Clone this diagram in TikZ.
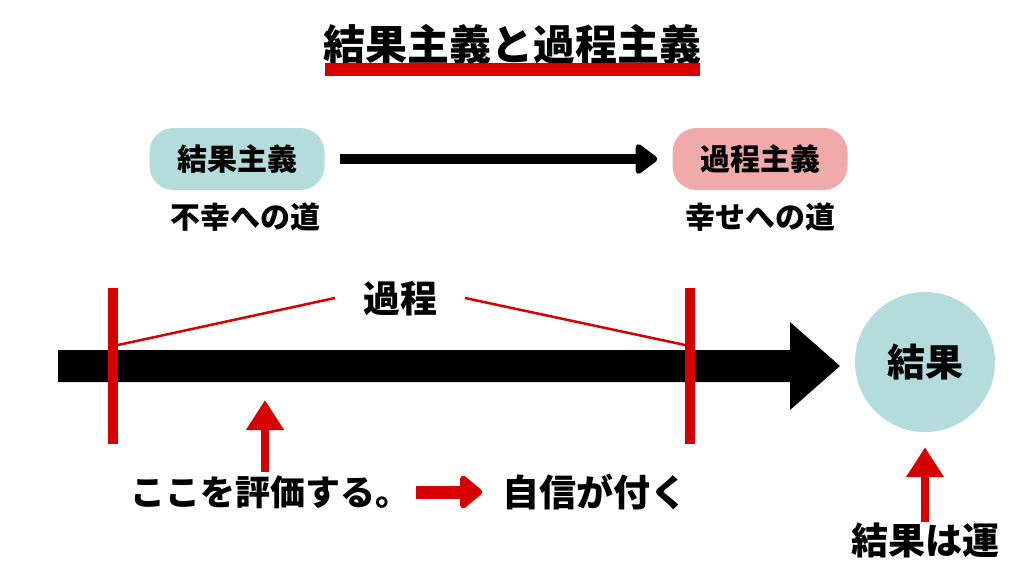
\documentclass[tikz,border=0pt]{standalone}
\usepackage{fontspec}
\newfontfamily\cjk{Noto Sans CJK JP Black}
\usetikzlibrary{arrows.meta,positioning}
\definecolor{boxteal}{RGB}{180,220,220}
\definecolor{boxpink}{RGB}{240,170,170}
\definecolor{mred}{RGB}{215,0,0}
\tikzset{
  jp/.style={font=\cjk\fontsize{#1}{#1}\selectfont, inner sep=0pt},
  tagbox/.style={rounded corners=24pt, minimum width=175pt, minimum height=62pt},
  redbar/.style={mred, line width=10pt},
  uparrow/.style={mred, line width=8pt, -{Triangle[length=30pt,width=36pt]}}
}
\begin{document}
\begin{tikzpicture}[x=1pt, y=-1pt]
    \useasboundingbox (0,0) rectangle (1024,576);

    % title
    \node[jp=42] (title) at (512,44) {結果主義と過程主義};
    \fill[mred] (325,63) rectangle (700,76);

    % the two views
    \node[tagbox, fill=boxteal, jp=30] (kekka) at (237,159) {結果主義};
    \node[tagbox, fill=boxpink, jp=30] (katei) at (760,159) {過程主義};
    \node[jp=30, below=12pt of kekka, xshift=8pt] (fukou) {不幸への道};
    \node[jp=30, below=12pt of katei] (kouhuku) {幸せへの道};
    \draw[line width=10pt, shorten <=15pt, shorten >=15pt,
          -{Triangle[round, length=24pt, width=34pt]}] (kekka) -- (katei);

    % time line
    \fill (58,350) -- (790,350) -- (790,322) -- (840,366)
          -- (790,410) -- (790,382) -- (58,382) -- cycle;
    \coordinate (start) at (113,288);
    \coordinate (stop) at (690,288);
    \draw[redbar] (start) -- ++(0,156);
    \draw[redbar] (stop) -- ++(0,156);

    \node[jp=37] (process) at (400,299) {過程};
    \coordinate (pl) at (335,298);
    \coordinate (pr) at (465,298);
    \draw[mred, line width=2.5pt] (118,345) -- (pl);
    \draw[mred, line width=2.5pt] (pr) -- (685,345);

    \node[circle, fill=boxteal, minimum size=140pt, jp=38] (result) at (925,362) {結果};

    % below the line
    \node[jp=35] (hyoka) at (270,492) {ここを評価する。};
    \node[jp=37] (jishin) at (595,492) {自信が付く};
    \coordinate (here) at (265,400);
    \draw[uparrow] (265,472) -- (here);
    \draw[mred, line width=13pt, shorten <=6pt, shorten >=20pt,
          -{Triangle[round, length=24pt, width=38pt]}] (hyoka) -- (jishin);

    \node[jp=37] (luck) at (925,540) {結果は運};
    \draw[uparrow, shorten >=15pt] (luck.north) -- (result);
\end{tikzpicture}
\end{document}
